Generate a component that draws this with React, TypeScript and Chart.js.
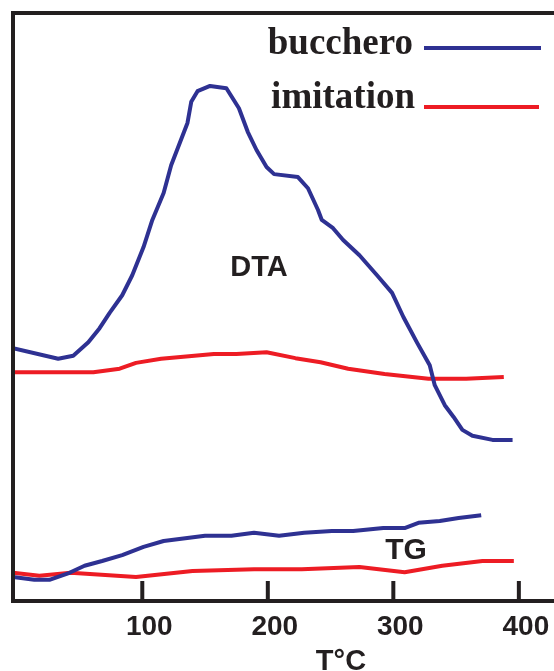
import React, { useEffect, useRef } from 'react';
import { Chart, registerables } from 'chart.js';

Chart.register(...registerables);

const INK = '#231f20';
const BLUE = '#2e3192';
const RED = '#ed1c24';

const seriesNames = ['bucchero', 'imitation'];
const tempTicks = [100, 200, 300, 400];
const axisTitle = 'T°C';
const curveLabels = ['DTA', 'TG'];

// DTA, bucchero
const dtaBuccheroT = [-3, 33, 45, 57, 66, 74, 84, 92, 101, 108, 117, 123, 136, 139, 144, 154, 167, 177, 184, 191, 199, 205, 224, 232, 240, 243, 252, 260, 273, 287, 299, 308, 319, 329, 333, 341, 348, 355, 363, 379, 395];
const dtaBuccheroV = [43.0, 41.2, 41.7, 44.0, 46.4, 49.0, 52.0, 55.4, 60.2, 64.8, 69.4, 74.1, 81.3, 84.9, 86.7, 87.6, 87.2, 83.8, 79.8, 76.7, 73.8, 72.6, 72.1, 70.2, 66.5, 64.8, 63.4, 61.4, 58.8, 55.4, 52.4, 48.3, 43.9, 40.1, 36.7, 33.3, 31.3, 29.1, 28.1, 27.4, 27.4];

// DTA, imitation
const dtaImitationT = [-3, 61, 82, 95, 115, 157, 175, 199, 222, 242, 264, 293, 328, 358, 388];
const dtaImitationV = [38.9, 38.9, 39.5, 40.5, 41.2, 42.0, 42.0, 42.3, 41.3, 40.6, 39.5, 38.6, 37.8, 37.8, 38.1];

// TG, bucchero
const tgBuccheroT = [-3, 14, 26, 42, 54, 68, 84, 101, 117, 150, 171, 189, 209, 229, 251, 268, 292, 309, 320, 337, 352, 370];
const tgBuccheroV = [4.1, 3.6, 3.6, 4.8, 6.0, 6.8, 7.8, 9.2, 10.2, 11.1, 11.1, 11.6, 11.1, 11.6, 11.9, 11.9, 12.4, 12.4, 13.3, 13.6, 14.1, 14.6];

// TG, imitation
const tgImitationT = [-3, 18, 43, 95, 140, 189, 227, 273, 309, 339, 371, 396];
const tgImitationV = [4.8, 4.3, 4.8, 4.1, 5.1, 5.4, 5.4, 5.8, 4.9, 6.0, 6.8, 6.8];

const pts = (xs: number[], ys: number[]) => xs.map((x, i) => ({ x, y: ys[i] }));

const lineStyle = (color: string) => ({
  borderColor: color,
  backgroundColor: color,
  borderWidth: 4,
  pointRadius: 0,
  tension: 0,
  fill: false,
  borderJoinStyle: 'round' as const,
  borderCapStyle: 'butt' as const,
});

const decorPlugin = {
  id: 'decor',
  afterDatasetsDraw(chart: any) {
    const { ctx, chartArea: a, scales } = chart;
    const xs = scales.x;
    ctx.save();
    ctx.strokeStyle = INK;
    ctx.lineWidth = 4;
    ctx.lineCap = 'butt';
    // left + top frame
    ctx.beginPath();
    ctx.moveTo(a.left, a.bottom + 2);
    ctx.lineTo(a.left, a.top);
    ctx.lineTo(chart.width, a.top);
    ctx.stroke();
    // inward tick marks
    xs.ticks.forEach((t: any) => {
      const p = xs.getPixelForValue(t.value);
      ctx.beginPath();
      ctx.moveTo(p, a.bottom);
      ctx.lineTo(p, a.bottom - 20);
      ctx.stroke();
    });
    // legend
    ctx.fillStyle = INK;
    ctx.font = 'bold 37px "Liberation Serif"';
    ctx.textAlign = 'right';
    ctx.textBaseline = 'alphabetic';
    ctx.fillText(seriesNames[0], 413, 54);
    ctx.fillText(seriesNames[1], 415, 108);
    ctx.lineWidth = 4;
    ctx.strokeStyle = BLUE;
    ctx.beginPath();
    ctx.moveTo(424, 48);
    ctx.lineTo(541, 48);
    ctx.stroke();
    ctx.strokeStyle = RED;
    ctx.beginPath();
    ctx.moveTo(424, 107);
    ctx.lineTo(539, 107);
    ctx.stroke();
    // curve labels
    ctx.font = 'bold 29px "Liberation Sans"';
    ctx.textAlign = 'center';
    ctx.fillText(curveLabels[0], 259, 276);
    ctx.font = 'bold 30px "Liberation Sans"';
    ctx.fillText(curveLabels[1], 406, 559);
    // axis title
    ctx.font = 'bold 29px "Liberation Sans"';
    ctx.fillText(axisTitle, 341, 670);
    ctx.restore();
  },
};

export default function App() {
  const ref = useRef<HTMLCanvasElement | null>(null);

  useEffect(() => {
    if (!ref.current) return;
    const chart = new Chart(ref.current, {
      type: 'line',
      data: {
        datasets: [
          { label: seriesNames[0] + ' DTA', data: pts(dtaBuccheroT, dtaBuccheroV), ...lineStyle(BLUE) },
          { label: seriesNames[1] + ' DTA', data: pts(dtaImitationT, dtaImitationV), ...lineStyle(RED) },
          { label: seriesNames[0] + ' TG', data: pts(tgBuccheroT, tgBuccheroV), ...lineStyle(BLUE) },
          { label: seriesNames[1] + ' TG', data: pts(tgImitationT, tgImitationV), ...lineStyle(RED) },
        ],
      },
      options: {
        animation: false,
        responsive: false,
        maintainAspectRatio: false,
        layout: { padding: { top: 13, left: 13, right: 0, bottom: 0 } },
        plugins: {
          legend: { display: false },
          tooltip: { enabled: false },
          title: { display: false },
        },
        scales: {
          x: {
            type: 'linear',
            min: -3,
            max: 428,
            afterBuildTicks: (scale: any) => {
              scale.ticks = tempTicks.map((v) => ({ value: v }));
            },
            afterFit: (scale: any) => {
              scale.height = 70;
            },
            grid: { display: false, drawTicks: false },
            border: { display: true, color: INK, width: 4 },
            ticks: {
              color: INK,
              padding: 9,
              labelOffset: 7,
              maxRotation: 0,
              autoSkip: false,
              font: { family: '"Liberation Sans"', size: 28, weight: 'bold' },
              callback: (v: any) => String(v),
            },
          },
          y: {
            type: 'linear',
            display: false,
            min: 0,
            max: 100,
          },
        },
      },
      plugins: [decorPlugin],
    });
    return () => chart.destroy();
  }, []);

  return (
    <div style={{ position: 'fixed', left: 0, top: 0, width: 554, height: 671, background: '#fff' }}>
      <canvas ref={ref} width={554} height={671} style={{ display: 'block' }} />
    </div>
  );
}
